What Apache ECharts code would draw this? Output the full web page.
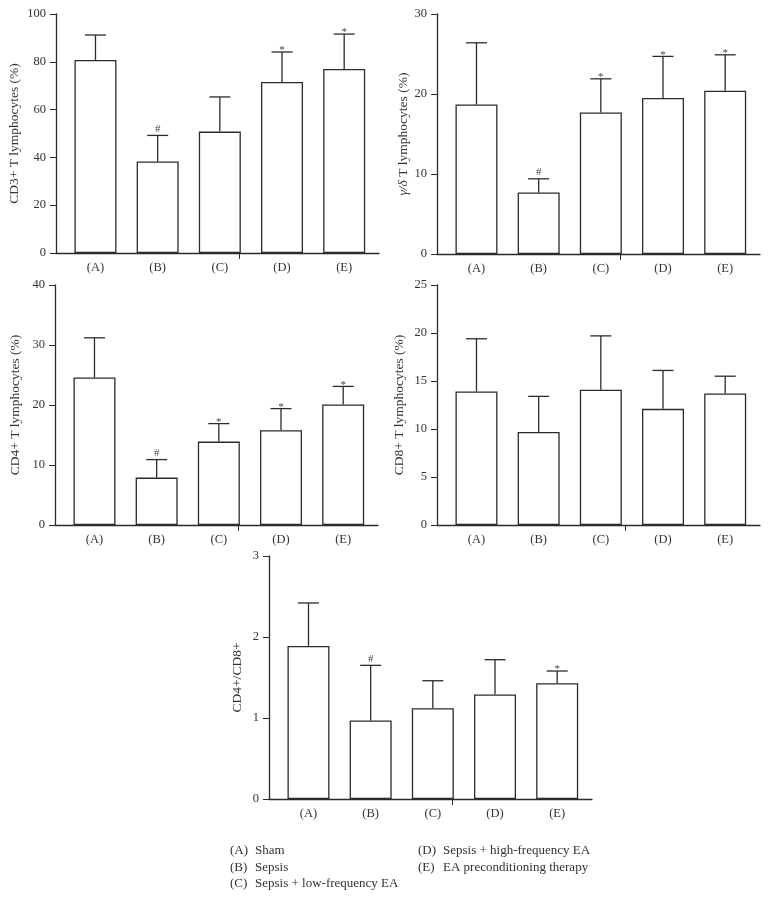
<!DOCTYPE html>
<html>
<head>
<meta charset="utf-8">
<script src="https://cdn.jsdelivr.net/npm/echarts@6.0.0/dist/echarts.min.js"></script>
<style>
  html, body { margin: 0; padding: 0; background: #fff; }
  #chart { width: 769px; height: 899px; }
</style>
</head>
<body>
<div id="chart"></div>
<script>
const categories = ['(A)', '(B)', '(C)', '(D)', '(E)'];
const groupNames = ['Sham', 'Sepsis', 'Sepsis + low-frequency EA', 'Sepsis + high-frequency EA', 'EA preconditioning therapy'];

// mean and upper error (SD)
const cd3Mean = [80.8, 38.3, 50.8, 71.6, 77.0];
const cd3Sd = [10.4, 10.9, 14.5, 12.5, 14.6];
const cd3Marks = ['', '#', '', '*', '*'];

const gdMean = [18.7, 7.7, 17.7, 19.5, 20.4];
const gdSd = [7.7, 1.7, 4.2, 5.2, 4.5];
const gdMarks = ['', '#', '*', '*', '*'];

const cd4Mean = [24.6, 7.9, 13.9, 15.8, 20.1];
const cd4Sd = [6.6, 3.0, 3.0, 3.6, 3.0];
const cd4Marks = ['', '#', '*', '*', '*'];

const cd8Mean = [13.9, 9.7, 14.1, 12.1, 13.7];
const cd8Sd = [5.5, 3.7, 5.6, 4.0, 1.8];
const cd8Marks = ['', '', '', '', ''];

const ratioMean = [1.89, 0.97, 1.12, 1.29, 1.43];
const ratioSd = [0.53, 0.68, 0.34, 0.43, 0.15];
const ratioMarks = ['', '#', '', '', '*'];

const FONT = '"Liberation Serif", "DejaVu Serif", serif';
const INK = '#2b2b2b';

const panels = [
  { mean: cd3Mean, sd: cd3Sd, marks: cd3Marks, name: 'CD3+ T lymphocytes (%)', max: 100, step: 20,
    left: 56, top: 14, height: 239, gap: 35, tick: 2.31 },
  { mean: gdMean, sd: gdSd, marks: gdMarks, name: '{i|γ/δ} T lymphocytes (%)', max: 30, step: 10,
    left: 437, top: 14, height: 240, gap: 25, tick: 2.31 },
  { mean: cd4Mean, sd: cd4Sd, marks: cd4Marks, name: 'CD4+ T lymphocytes (%)', max: 40, step: 10,
    left: 55, top: 285, height: 240, gap: 33, tick: 2.31 },
  { mean: cd8Mean, sd: cd8Sd, marks: cd8Marks, name: 'CD8+ T lymphocytes (%)', max: 25, step: 5,
    left: 437, top: 285, height: 240, gap: 31, tick: 2.4 },
  { mean: ratioMean, sd: ratioSd, marks: ratioMarks, name: 'CD4+/CD8+', max: 3, step: 1,
    left: 269, top: 556, height: 243, gap: 25, tick: 2.31 }
];

function errorBar(marks) {
  return function (params, api) {
    const x = api.value(0);
    const m = api.value(1);
    const s = api.value(2);
    const base = api.coord([x, m]);
    const top = api.coord([x, m + s]);
    const lineStyle = { stroke: INK, lineWidth: 1.3 };
    const children = [
      { type: 'line', shape: { x1: base[0], y1: base[1], x2: top[0], y2: top[1] }, style: lineStyle },
      { type: 'line', shape: { x1: top[0] - 10.5, y1: top[1], x2: top[0] + 10.5, y2: top[1] }, style: lineStyle }
    ];
    const mark = marks[params.dataIndex];
    if (mark) {
      children.push({
        type: 'text',
        style: {
          text: mark,
          x: top[0],
          y: top[1] + (mark === '*' ? 4 : -1),
          align: 'center',
          verticalAlign: 'bottom',
          font: '11px ' + FONT,
          fill: '#444'
        }
      });
    }
    return { type: 'group', children: children };
  };
}

const grid = [];
const xAxis = [];
const yAxis = [];
const series = [];

panels.forEach(function (p, k) {
  grid.push({ left: p.left, top: p.top, width: 323, height: p.height, outerBoundsMode: 'none', containLabel: false });
  xAxis.push({
    type: 'value',
    gridIndex: k,
    min: -0.635,
    max: 4.56,
    axisLine: { show: true, onZero: false, lineStyle: { color: INK, width: 1.3 } },
    axisTick: { show: true, customValues: [p.tick], length: 6, lineStyle: { color: INK, width: 1 } },
    axisLabel: {
      show: true,
      customValues: [0, 1, 2, 3, 4],
      formatter: function (v) { return categories[Math.round(v)]; },
      color: '#333',
      fontFamily: FONT,
      fontSize: 12.5,
      margin: 8
    },
    splitLine: { show: false }
  });
  yAxis.push({
    type: 'value',
    gridIndex: k,
    min: 0,
    max: p.max,
    interval: p.step,
    name: p.name,
    nameLocation: 'middle',
    nameGap: p.gap,
    nameRotate: 90,
    nameTextStyle: {
      color: '#333', fontFamily: FONT, fontSize: 13.5,
      rich: { i: { fontStyle: 'italic', color: '#333', fontFamily: FONT, fontSize: 13.5 } }
    },
    axisLine: { show: true, onZero: false, lineStyle: { color: INK, width: 1.3 } },
    axisTick: { show: true, length: 6, lineStyle: { color: INK, width: 1 } },
    axisLabel: { color: '#333', fontFamily: FONT, fontSize: 12.5, margin: 10 },
    splitLine: { show: false }
  });
  series.push({
    type: 'bar',
    xAxisIndex: k,
    yAxisIndex: k,
    barWidth: 42,
    data: p.mean.map(function (v, i) { return [i, v]; }),
    itemStyle: { color: '#fff', borderColor: INK, borderWidth: 1.3 },
    silent: true
  });
  series.push({
    type: 'custom',
    xAxisIndex: k,
    yAxisIndex: k,
    data: p.mean.map(function (v, i) { return [i, v, p.sd[i]]; }),
    renderItem: errorBar(p.marks),
    silent: true,
    z: 3
  });
});

const legendText = [];
categories.forEach(function (c, i) {
  const col = i < 3 ? 0 : 1;
  const row = i < 3 ? i : i - 3;
  const x = col === 0 ? 230 : 418;
  const y = 851 + row * 16.7;
  legendText.push({ type: 'text', left: x, top: y - 7, style: { text: c, font: '13px ' + FONT, fill: '#333' } });
  legendText.push({ type: 'text', left: x + 25, top: y - 7, style: { text: groupNames[i], font: '13px ' + FONT, fill: '#333' } });
});

const chart = echarts.init(document.getElementById('chart'));
chart.setOption({
  animation: false,
  backgroundColor: '#fff',
  grid: grid,
  xAxis: xAxis,
  yAxis: yAxis,
  series: series,
  graphic: legendText
});
</script>
</body>
</html>
